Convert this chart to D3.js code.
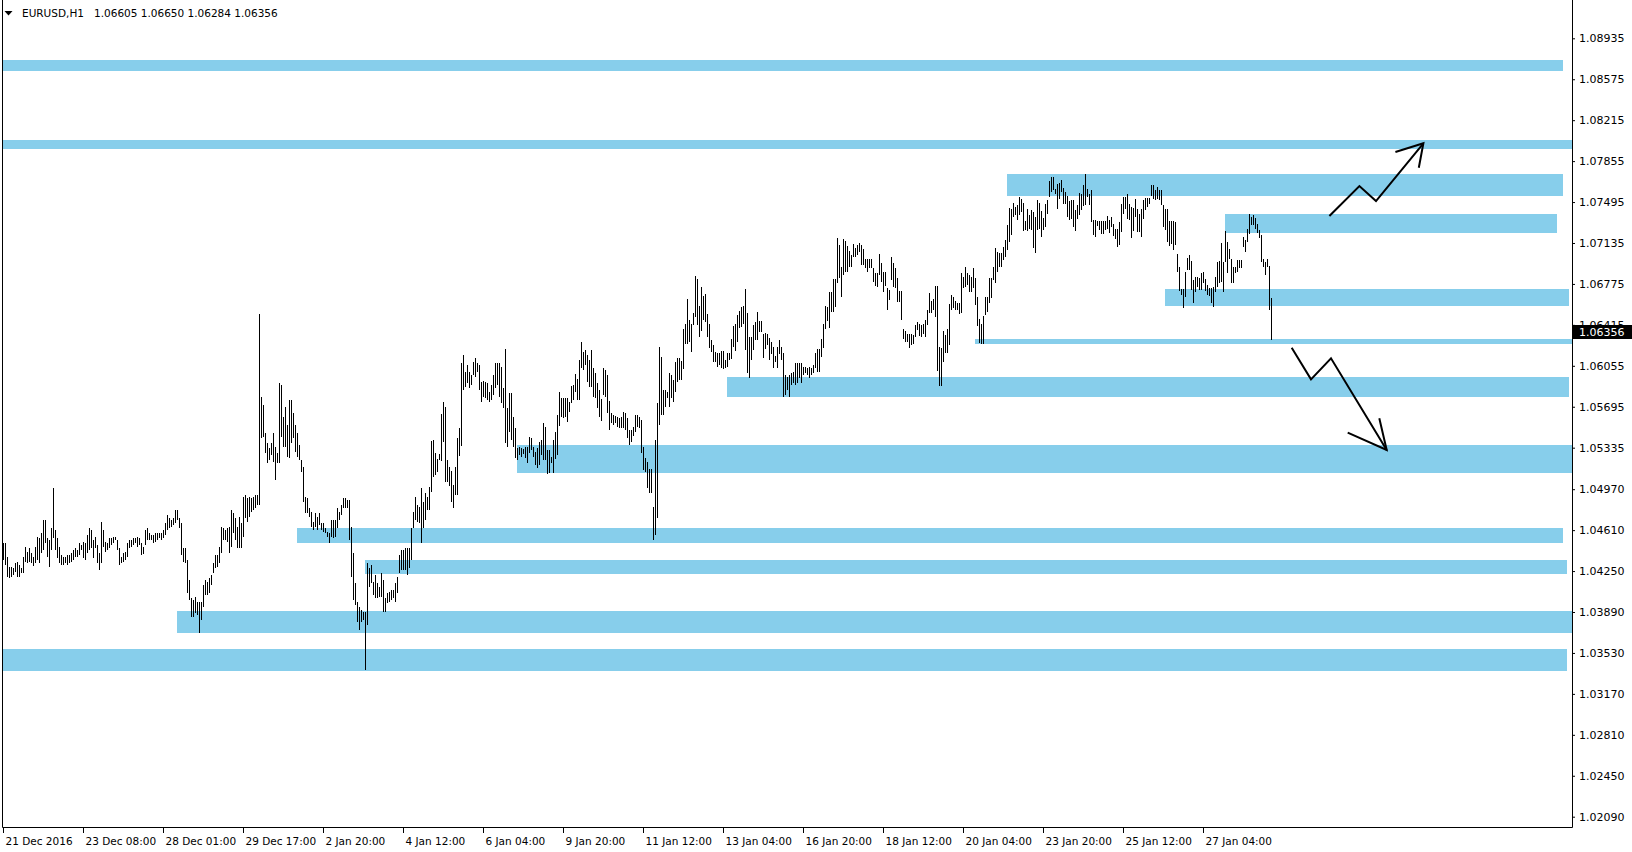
<!DOCTYPE html>
<html><head><meta charset="utf-8">
<script src="https://cdn.jsdelivr.net/npm/d3@7"></script>
<style>
body{margin:0;background:#fff}
svg{display:block}
text{font-family:"DejaVu Sans",sans-serif}
</style>
</head><body>
<svg id="c" width="1632" height="852"></svg>
<script>
// ---------- data ----------
const symbolTitle = "EURUSD,H1";
const ohlcTitle = "1.06605 1.06650 1.06284 1.06356";
const lastClose = 1.06356;

const timeTickIdx = [0,40,80,120,160,200,240,280,320,360,400,440,480,520,560,600];
const timeLabels = ["21 Dec 2016","23 Dec 08:00","28 Dec 01:00","29 Dec 17:00","2 Jan 20:00","4 Jan 12:00","6 Jan 04:00","9 Jan 20:00","11 Jan 12:00","13 Jan 04:00","16 Jan 20:00","18 Jan 12:00","20 Jan 04:00","23 Jan 20:00","25 Jan 12:00","27 Jan 04:00"];

const priceTicks = [1.08935,1.08575,1.08215,1.07855,1.07495,1.07135,1.06775,1.06415,1.06055,1.05695,1.05335,1.04970,1.04610,1.04250,1.03890,1.03530,1.03170,1.02810,1.02450,1.02090];

// H1 bars (high / low), oldest first
const highs = [
1.04493,1.04493,1.04376,1.04288,1.04288,1.04273,1.04317,1.04332,1.04303,1.04273,
1.04376,1.04464,1.04420,1.04449,1.04405,1.04376,1.04464,1.04552,1.04537,1.04581,
1.04698,1.04698,1.04537,1.04522,1.04625,1.04977,1.04610,1.04537,1.04464,1.04391,
1.04376,1.04376,1.04391,1.04391,1.04405,1.04434,1.04449,1.04434,1.04493,1.04478,
1.04508,1.04493,1.04566,1.04625,1.04610,1.04522,1.04552,1.04478,1.04405,1.04684,
1.04610,1.04508,1.04493,1.04537,1.04537,1.04552,1.04552,1.04522,1.04449,1.04376,
1.04405,1.04420,1.04493,1.04522,1.04522,1.04537,1.04537,1.04552,1.04537,1.04493,
1.04464,1.04610,1.04625,1.04581,1.04566,1.04566,1.04581,1.04581,1.04581,1.04581,
1.04610,1.04669,1.04742,1.04713,1.04698,1.04713,1.04786,1.04786,1.04713,1.04669,
1.04449,1.04449,1.04347,1.04171,1.04010,1.03995,1.04024,1.03980,1.03980,1.03980,
1.04127,1.04171,1.04156,1.04185,1.04215,1.04317,1.04391,1.04391,1.04464,1.04640,
1.04625,1.04610,1.04625,1.04640,1.04786,1.04757,1.04713,1.04640,1.04727,1.04669,
1.04903,1.04918,1.04889,1.04903,1.04889,1.04903,1.04918,1.04918,1.06509,1.05782,
1.05709,1.05460,1.05372,1.05328,1.05372,1.05460,1.05343,1.05284,1.05900,1.05885,
1.05607,1.05694,1.05533,1.05753,1.05753,1.05636,1.05533,1.05460,1.05357,1.05226,
1.05167,1.04903,1.04889,1.04801,1.04771,1.04684,1.04757,1.04727,1.04757,1.04669,
1.04669,1.04625,1.04596,1.04581,1.04698,1.04698,1.04698,1.04801,1.04771,1.04830,
1.04889,1.04889,1.04874,1.04874,1.04640,1.04405,1.04142,1.03980,1.03936,1.03907,
1.03892,1.03892,1.04317,1.04273,1.04303,1.04156,1.04215,1.04142,1.04112,1.04229,
1.04171,1.04010,1.04054,1.04068,1.04083,1.04083,1.04142,1.04200,1.04391,1.04434,
1.04434,1.04449,1.04449,1.04449,1.04625,1.04771,1.04903,1.04830,1.04816,
1.04983,1.04860,1.04933,1.04904,1.04992,1.05393,1.05402,1.05285,1.05232,1.05279,
1.05630,1.05733,1.05695,1.05226,1.05167,1.05129,1.05006,1.05167,1.05416,1.05504,
1.06082,1.06149,1.06002,1.06061,1.06002,1.05973,1.06090,1.06120,1.06076,1.06061,
1.05915,1.05920,1.05909,1.05900,1.05827,1.05885,1.05973,1.06076,1.06076,1.06076,
1.06046,1.05856,1.06199,1.05680,1.05812,1.05812,1.05607,1.05504,1.05329,1.05343,
1.05335,1.05323,1.05343,1.05343,1.05431,1.05416,1.05343,1.05299,1.05329,1.05387,
1.05402,1.05548,1.05519,1.05314,1.05314,1.05255,1.05402,1.05475,1.05622,1.05821,
1.05768,1.05768,1.05768,1.05768,1.05739,1.05876,1.05885,1.05979,1.05938,1.06105,
1.06266,1.06178,1.06193,1.06149,1.06105,1.06193,1.06032,1.05988,1.05900,1.05841,
1.05759,1.06032,1.06017,1.05973,1.05745,1.05636,1.05622,1.05616,1.05607,1.05592,
1.05607,1.05651,1.05642,1.05592,1.05490,1.05490,1.05513,1.05622,1.05622,1.05601,
1.05578,1.05343,1.05241,1.05211,1.05144,1.05144,1.04816,1.05402,1.05724,1.06222,
1.06134,1.05841,1.05841,1.05827,1.05988,1.05973,1.05929,1.06090,1.06128,1.06120,
1.06099,1.06375,1.06421,1.06641,1.06457,1.06421,1.06515,1.06843,1.06817,1.06583,
1.06744,1.06668,1.06685,1.06509,1.06421,1.06281,1.06237,1.06178,1.06164,1.06164,
1.06187,1.06184,1.06105,1.06164,1.06170,1.06290,1.06404,1.06427,1.06501,1.06536,
1.06574,1.06583,1.06729,1.06521,1.06304,1.06310,1.06413,1.06442,1.06530,1.06448,
1.06448,1.06339,1.06345,1.06339,1.06301,1.06266,1.06216,1.06140,1.06216,1.06286,
1.06216,1.06164,1.05973,1.05958,1.05973,1.05988,1.06002,1.06076,1.06076,1.06076,
1.06076,1.06046,1.06046,1.06040,1.06046,1.06040,1.06061,1.06170,1.06199,1.06199,
1.06287,1.06427,1.06580,1.06574,1.06700,1.06706,1.06817,1.06817,1.07183,1.07116,
1.06920,1.07169,1.07154,1.07110,1.07066,1.07028,1.07125,1.07095,1.07116,1.07139,
1.07116,1.07081,1.06990,1.06996,1.06993,1.06993,1.06911,1.06867,1.06867,1.07037,
1.06955,1.06876,1.06881,1.06735,1.06726,1.07013,1.06955,1.06914,1.06823,1.06712,
1.06712,1.06377,1.06363,1.06339,1.06339,1.06339,1.06325,1.06413,1.06442,1.06427,
1.06416,1.06427,1.06462,1.06550,1.06691,1.06624,1.06641,1.06755,1.06755,1.06222,
1.06208,1.06360,1.06325,1.06383,1.06597,1.06682,1.06656,1.06627,1.06603,1.06603,
1.06873,1.06837,1.06920,1.06867,1.06852,1.06837,1.06911,1.06826,1.06659,1.06465,
1.06427,1.06492,1.06656,1.06656,1.06823,1.06823,1.06925,1.07087,1.07057,1.07048,
1.07043,1.07101,1.07160,1.07292,1.07444,1.07438,1.07491,1.07453,1.07473,1.07541,
1.07526,1.07491,1.07327,1.07438,1.07385,1.07423,1.07409,1.07365,1.07511,1.07491,
1.07415,1.07359,1.07482,1.07511,1.07678,1.07716,1.07716,1.07608,1.07658,1.07664,
1.07693,1.07620,1.07585,1.07547,1.07503,1.07517,1.07517,1.07429,1.07467,1.07576,
1.07570,1.07643,1.07740,1.07608,1.07570,1.07599,1.07336,1.07336,1.07327,1.07327,
1.07327,1.07327,1.07330,1.07371,1.07341,1.07365,1.07298,1.07262,1.07262,1.07321,
1.07482,1.07541,1.07541,1.07570,1.07482,1.07453,1.07444,1.07520,1.07438,1.07394,
1.07438,1.07517,1.07532,1.07532,1.07532,1.07643,1.07643,1.07605,1.07629,1.07605,
1.07599,1.07467,1.07432,1.07432,1.07330,1.07327,1.07327,1.07321,1.07034,1.06925,
1.06729,1.06729,1.06881,1.07002,1.07028,1.06978,1.06808,1.06837,1.06837,1.06823,
1.06873,1.06881,1.06817,1.06764,1.06741,1.06741,1.06750,1.06837,1.06969,1.06975,
1.07136,1.06969,1.07239,1.07145,1.07078,1.06990,1.06925,1.06925,1.06984,1.06984,
1.06984,1.07189,1.07160,1.07262,1.07394,1.07365,1.07380,1.07359,1.07306,1.07248,
1.07204,1.06993,1.06969,1.06993,1.06931,1.06650
];
const lows = [
1.04347,1.04303,1.04200,1.04185,1.04200,1.04215,1.04244,1.04200,1.04200,1.04229,
1.04235,1.04332,1.04317,1.04332,1.04317,1.04294,1.04317,1.04347,1.04317,1.04405,
1.04434,1.04493,1.04376,1.04288,1.04434,1.04537,1.04434,1.04361,1.04317,1.04303,
1.04303,1.04317,1.04303,1.04317,1.04332,1.04347,1.04376,1.04376,1.04391,1.04434,
1.04361,1.04347,1.04405,1.04434,1.04449,1.04361,1.04449,1.04317,1.04259,1.04317,
1.04464,1.04420,1.04434,1.04449,1.04478,1.04493,1.04522,1.04434,1.04303,1.04317,
1.04332,1.04347,1.04376,1.04449,1.04464,1.04478,1.04493,1.04464,1.04478,1.04391,
1.04400,1.04478,1.04522,1.04522,1.04522,1.04493,1.04508,1.04522,1.04537,1.04522,
1.04537,1.04566,1.04610,1.04625,1.04640,1.04654,1.04669,1.04698,1.04625,1.04391,
1.04332,1.04317,1.04054,1.03995,1.03848,1.03848,1.03878,1.03863,1.03708,1.03819,
1.03936,1.04039,1.04039,1.04054,1.04127,1.04229,1.04273,1.04288,1.04317,1.04405,
1.04522,1.04522,1.04508,1.04405,1.04464,1.04581,1.04522,1.04449,1.04449,1.04449,
1.04552,1.04713,1.04684,1.04727,1.04771,1.04786,1.04801,1.04830,1.04830,1.05416,
1.05431,1.05284,1.05196,1.05226,1.05270,1.05211,1.05050,1.05196,1.05196,1.05431,
1.05343,1.05343,1.05255,1.05240,1.05372,1.05416,1.05299,1.05255,1.05226,1.05123,
1.04859,1.04757,1.04757,1.04727,1.04640,1.04610,1.04640,1.04610,1.04654,1.04610,
1.04596,1.04581,1.04552,1.04493,1.04552,1.04537,1.04552,1.04625,1.04698,1.04742,
1.04801,1.04801,1.04801,1.04522,1.04200,1.03995,1.03951,1.03805,1.03731,1.03805,
1.03819,1.03380,1.03775,1.04112,1.04142,1.04039,1.04010,1.04010,1.04024,1.04024,
1.03892,1.03892,1.03966,1.03980,1.03995,1.04010,1.03980,1.04054,1.04229,1.04259,
1.04259,1.04259,1.04215,1.04273,1.04347,1.04625,1.04698,1.04684,1.04669,
1.04493,1.04625,1.04699,1.04786,1.04786,1.04948,1.05079,1.05094,1.05123,1.05226,
1.05220,1.05387,1.05036,1.05036,1.05000,1.04860,1.04807,1.04918,1.04918,1.05261,
1.05352,1.05841,1.05871,1.05900,1.05856,1.05885,1.05973,1.05958,1.06002,1.05841,
1.05739,1.05783,1.05768,1.05753,1.05739,1.05753,1.05797,1.05856,1.05885,1.05783,
1.05724,1.05680,1.05372,1.05343,1.05475,1.05402,1.05343,1.05241,1.05226,1.05270,
1.05255,1.05276,1.05241,1.05203,1.05285,1.05314,1.05255,1.05182,1.05153,1.05182,
1.05270,1.05226,1.05226,1.05100,1.05109,1.05197,1.05115,1.05232,1.05270,1.05525,
1.05607,1.05592,1.05607,1.05563,1.05651,1.05724,1.05753,1.05827,1.05753,1.05753,
1.06032,1.06017,1.06061,1.05915,1.05871,1.05871,1.05783,1.05768,1.05680,1.05607,
1.05569,1.05797,1.05783,1.05636,1.05490,1.05548,1.05534,1.05548,1.05519,1.05504,
1.05504,1.05504,1.05490,1.05416,1.05358,1.05387,1.05437,1.05475,1.05519,1.05504,
1.05290,1.05138,1.05123,1.04977,1.04933,1.04933,1.04523,1.04567,1.04713,1.05534,
1.05622,1.05622,1.05695,1.05768,1.05695,1.05768,1.05739,1.05827,1.05915,1.05929,
1.05929,1.06026,1.06251,1.06251,1.06266,1.06178,1.06413,1.06486,1.06413,1.06310,
1.06363,1.06457,1.06442,1.06310,1.06208,1.06178,1.06090,1.06090,1.06046,1.06061,
1.06032,1.06023,1.06032,1.06046,1.06105,1.06111,1.06222,1.06187,1.06266,1.06389,
1.06398,1.06421,1.06193,1.05994,1.05950,1.06105,1.06193,1.06281,1.06286,1.06354,
1.06354,1.06126,1.06199,1.06237,1.06105,1.06158,1.06038,1.06090,1.06038,1.06158,
1.06105,1.05783,1.05797,1.05841,1.05783,1.05885,1.05900,1.05885,1.05900,1.05944,
1.05900,1.05973,1.05988,1.05973,1.05944,1.05973,1.05988,1.06032,1.06002,1.06002,
1.06134,1.06208,1.06383,1.06448,1.06389,1.06530,1.06530,1.06574,1.06785,1.06823,
1.06662,1.06852,1.06881,1.06881,1.06925,1.06925,1.07013,1.07013,1.07028,1.07057,
1.06940,1.06940,1.06911,1.06881,1.06911,1.06911,1.06794,1.06755,1.06750,1.06852,
1.06794,1.06706,1.06755,1.06544,1.06632,1.06808,1.06750,1.06735,1.06618,1.06618,
1.06457,1.06295,1.06266,1.06266,1.06208,1.06237,1.06251,1.06310,1.06369,1.06316,
1.06310,1.06331,1.06310,1.06413,1.06521,1.06521,1.06550,1.06480,1.06011,1.05876,
1.05876,1.06090,1.06169,1.06169,1.06237,1.06544,1.06559,1.06544,1.06544,1.06509,
1.06515,1.06735,1.06750,1.06764,1.06706,1.06706,1.06735,1.06588,1.06404,1.06257,
1.06249,1.06243,1.06501,1.06530,1.06603,1.06647,1.06808,1.06785,1.06881,1.06925,
1.06920,1.06984,1.07013,1.07072,1.07145,1.07204,1.07365,1.07380,1.07336,1.07380,
1.07409,1.07239,1.07248,1.07239,1.07262,1.07248,1.07087,1.07048,1.07248,1.07262,
1.07189,1.07248,1.07277,1.07394,1.07541,1.07585,1.07599,1.07570,1.07432,1.07526,
1.07585,1.07476,1.07482,1.07365,1.07336,1.07344,1.07277,1.07242,1.07350,1.07380,
1.07423,1.07459,1.07473,1.07541,1.07467,1.07321,1.07204,1.07189,1.07286,1.07248,
1.07218,1.07218,1.07248,1.07262,1.07224,1.07277,1.07195,1.07174,1.07101,1.07116,
1.07233,1.07394,1.07438,1.07350,1.07341,1.07183,1.07242,1.07365,1.07233,1.07233,
1.07189,1.07350,1.07423,1.07453,1.07482,1.07547,1.07526,1.07517,1.07520,1.07517,
1.07467,1.07277,1.07248,1.07145,1.07110,1.07130,1.07072,1.07116,1.06876,1.06714,
1.06676,1.06565,1.06662,1.06896,1.06896,1.06726,1.06603,1.06706,1.06750,1.06720,
1.06720,1.06785,1.06714,1.06676,1.06670,1.06603,1.06574,1.06706,1.06750,1.06779,
1.06794,1.06706,1.06969,1.06867,1.06990,1.06779,1.06779,1.06867,1.06881,1.06911,
1.06911,1.07101,1.07057,1.07145,1.07218,1.07292,1.07292,1.07262,1.07224,1.07183,
1.06969,1.06920,1.06852,1.06925,1.06545,1.06284
];

// support / resistance zones (price band, bar index span)
const zoneTop    = [1.08744,1.08041,1.07742,1.07390,1.06728,1.06291,1.05957,1.05359,1.04629,1.04347,1.03899,1.03565];
const zoneBottom = [1.08650,1.07959,1.07551,1.07226,1.06584,1.06250,1.05783,1.05115,1.04500,1.04227,1.03708,1.03374];
const zoneFrom   = [0,0,502,611,581,486,362,257,147,181,87,0];
const zoneTo     = [780,785,780,777,783,785,783,785,780,782,785,782];

// hand-drawn arrows (bar index, price)
const upPath   = [[663.2,1.07372],[678.2,1.07636],[686.5,1.07504],[710.2,1.08012]];
const upHead   = [[696.2,1.07935],[710.2,1.08012],[707.9,1.07797]];
const downPath = [[644.35,1.06214],[654,1.05936],[664,1.06121],[691.85,1.05315]];
const downHead = [[672.35,1.05467],[691.85,1.05315],[688.15,1.05593]];

// ---------- drawing ----------
const svg = d3.select("#c");
const plotRight = 1572;
const plotBottom = 827;

const x = d3.scaleLinear().domain([0, 1]).range([3, 5]);
const y = d3.scaleLinear().domain([1.02090, 1.08935]).range([816.7, 38.3]);

svg.append("defs").append("clipPath").attr("id","plot")
  .append("rect").attr("x",3).attr("y",0).attr("width",plotRight-3).attr("height",plotBottom);

const plot = svg.append("g").attr("clip-path","url(#plot)");

// zones
plot.append("g").selectAll("rect")
  .data(d3.range(zoneTop.length))
  .join("rect")
  .attr("x", i => x(zoneFrom[i]))
  .attr("width", i => x(zoneTo[i]) - x(zoneFrom[i]))
  .attr("y", i => Math.round(y(zoneTop[i])))
  .attr("height", i => Math.round(y(zoneBottom[i])) - Math.round(y(zoneTop[i])))
  .attr("fill", "#87CEEB")
  .attr("shape-rendering","crispEdges");

// bars
plot.append("g").selectAll("rect")
  .data(d3.range(highs.length))
  .join("rect")
  .attr("x", i => x(i))
  .attr("width", 1)
  .attr("y", i => Math.round(y(highs[i])))
  .attr("height", i => Math.max(1, Math.round(y(lows[i])) - Math.round(y(highs[i]))))
  .attr("fill", "#000")
  .attr("shape-rendering","crispEdges");

// arrows
const line = d3.line().x(d => x(d[0])).y(d => y(d[1]));
[upPath, upHead, downPath, downHead].forEach(p => {
  plot.append("path").attr("d", line(p))
    .attr("fill","none").attr("stroke","#000").attr("stroke-width",2)
    .attr("stroke-linejoin","miter");
});

// frame
svg.append("path")
  .attr("d", `M2.5,0V${plotBottom+0.5}H${plotRight+0.5}V0`)
  .attr("fill","none").attr("stroke","#000").attr("stroke-width",1);

// right price axis
const yAxis = d3.axisRight(y).tickValues(priceTicks).tickSize(3).tickPadding(4)
  .tickFormat(d => d.toFixed(5));
const gy = svg.append("g").attr("transform", `translate(${plotRight},0)`).call(yAxis);
gy.select(".domain").remove();
gy.attr("font-family", "DejaVu Sans").attr("font-size", 11);
gy.selectAll("text").attr("fill","#000");
gy.selectAll("line").attr("stroke","#000");

// bottom time axis
const xAxis = d3.axisBottom(x).tickValues(timeTickIdx).tickSize(5)
  .tickFormat((d, k) => timeLabels[k]);
const gx = svg.append("g").attr("transform", `translate(0,${plotBottom+1})`).call(xAxis);
gx.select(".domain").remove();
gx.attr("font-family", "DejaVu Sans").attr("font-size", 10.5);
gx.selectAll("text").attr("text-anchor","start").attr("x",2).attr("y",9.5).attr("fill","#000");
gx.selectAll("line").attr("stroke","#000");

// last price label (covers part of the neighbouring tick label, as in the terminal)
const yc = y(lastClose);
svg.append("rect").attr("x",1573).attr("y",Math.round(yc)-7).attr("width",59).attr("height",14)
  .attr("fill","#000");
svg.append("text").attr("x",1579).attr("y",yc+0.5).attr("dy","0.35em")
  .attr("font-size",11).attr("fill","#fff").text(lastClose.toFixed(5));

// title
svg.append("path").attr("d","M4.5,11L12.5,11L8.5,15.5Z").attr("fill","#000");
svg.append("text").attr("x",22).attr("y",16.5).attr("font-size",10.5).attr("fill","#000").text(symbolTitle);
svg.append("text").attr("x",94).attr("y",16.5).attr("font-size",10.5).attr("fill","#000").text(ohlcTitle);
</script>
</body></html>
